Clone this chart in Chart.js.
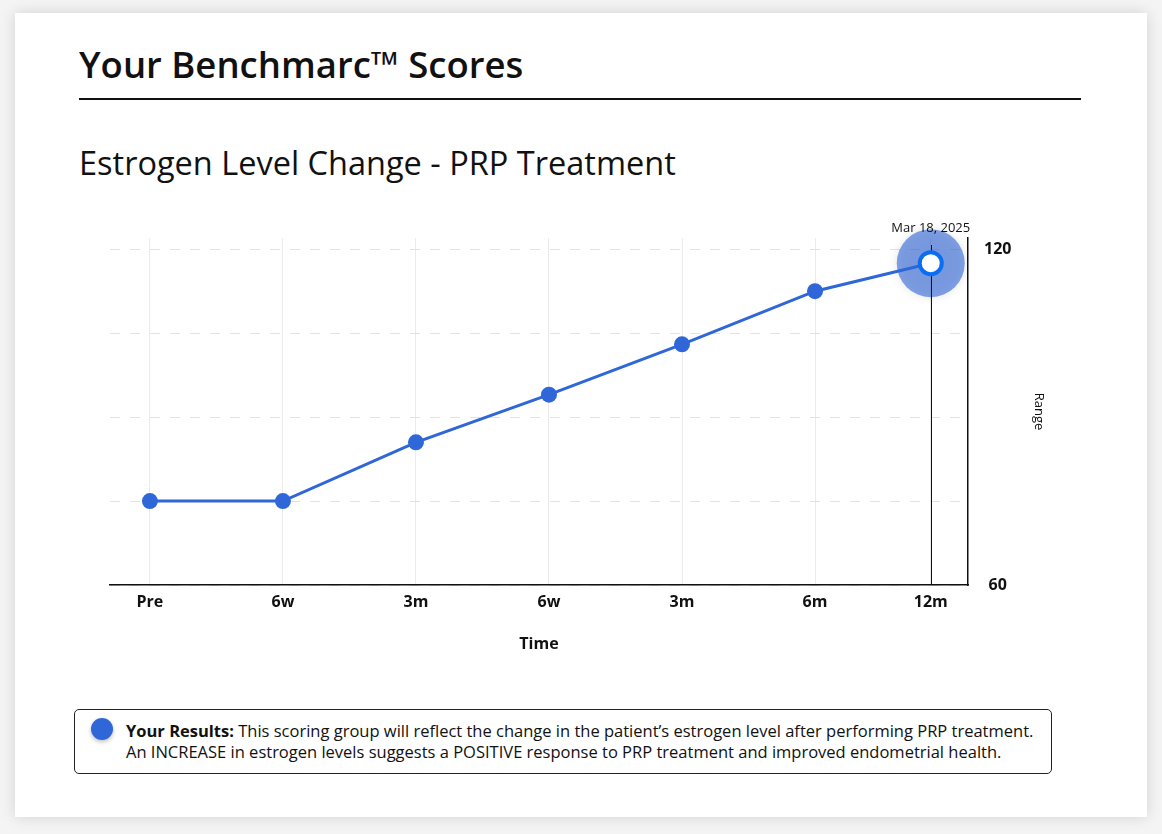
<!DOCTYPE html>
<html>
<head>
<meta charset="utf-8">
<script src="https://cdn.jsdelivr.net/npm/chart.js@4.4.1/dist/chart.umd.min.js"></script>
<style>
  html, body { margin: 0; padding: 0; }
  body {
    width: 1162px; height: 834px; background: #f4f4f4;
    font-family: "Open Sans", sans-serif; color: #111; position: relative; overflow: hidden;
  }
  .card {
    position: absolute; left: 15px; top: 13px; width: 1132px; height: 804px;
    background: #fff; box-shadow: 0 0 14px rgba(0,0,0,0.14);
  }
  .title {
    position: absolute; left: 79px; top: 40px; margin: 0;
    font-size: 36.5px; font-weight: 600; line-height: 48px; color: #111;
  }
  .rule { position: absolute; left: 79px; top: 98px; width: 1002px; height: 2px; background: #111; }
  .subtitle {
    position: absolute; left: 79px; top: 142px; margin: 0;
    font-size: 32.5px; font-weight: 400; line-height: 42px; color: #111;
  }
  .chart-box { position: absolute; left: 60px; top: 200px; width: 1000px; height: 470px; }
  .legend {
    position: absolute; left: 74px; top: 709px; width: 976px; height: 63px;
    border: 1px solid #222; border-radius: 5px; box-sizing: content-box;
  }
  .legend .dot {
    position: absolute; left: 16px; top: 8px; width: 22px; height: 22px; border-radius: 50%;
    background: #2f66d8; box-shadow: 0 2px 4px rgba(0,0,0,0.25);
  }
  .legend .text {
    position: absolute; left: 51px; top: 10px; width: 925px;
    font-size: 16.5px; line-height: 21px; color: #111; white-space: nowrap;
  }
  .legend b { font-weight: 700; }
</style>
</head>
<body>
<div class="card"></div>
<h1 class="title">Your Benchmarc™ Scores</h1>
<div class="rule"></div>
<h2 class="subtitle">Estrogen Level Change - PRP Treatment</h2>
<div class="chart-box"><canvas id="estrogenChart"></canvas></div>
<div class="legend">
  <div class="dot"></div>
  <div class="text"><b>Your Results:</b> This scoring group will reflect the change in the patient’s estrogen level after performing PRP treatment.<br>An INCREASE in estrogen levels suggests a POSITIVE response to PRP treatment and improved endometrial health.</div>
</div>

<script>
// --- Data ---
const timeLabels = ['Pre', '6w', '3m', '6w', '3m', '6m', '12m'];
const timeIndex = [0, 1, 2, 3, 4, 5, 5.87];
const estrogenValues = [75, 75, 85.5, 94, 103, 112.5, 117.5];
const yTickValues = [60, 75, 90, 105, 120];
const yTickLabels = ['60', '', '', '', '120'];
const lastDateLabel = 'Mar 18, 2025';

const BLUE = '#2f66d8';
const lastIdx = estrogenValues.length - 1;

// highlight halo + marker line behind the selected (latest) point
const highlightPlugin = {
    id: 'highlight',
    beforeDatasetsDraw(chart) {
        const pt = chart.getDatasetMeta(0).data[lastIdx];
        const { ctx, chartArea } = chart;
        ctx.save();
        ctx.shadowColor = 'rgba(0,0,0,0.18)';
        ctx.shadowBlur = 10;
        ctx.fillStyle = 'rgba(47,102,216,0.6)';
        ctx.beginPath();
        ctx.arc(pt.x, pt.y, 34, 0, Math.PI * 2);
        ctx.fill();
        ctx.restore();

        ctx.save();
        ctx.strokeStyle = '#111';
        ctx.lineWidth = 1;
        ctx.beginPath();
        ctx.moveTo(Math.round(pt.x) + 0.5, chartArea.top + 7);
        ctx.lineTo(Math.round(pt.x) + 0.5, chartArea.bottom);
        ctx.stroke();
        ctx.restore();
    },
    afterDatasetsDraw(chart) {
        const pt = chart.getDatasetMeta(0).data[lastIdx];
        const { ctx, chartArea } = chart;
        ctx.save();
        ctx.font = '13px "Open Sans"';
        ctx.fillStyle = '#111';
        ctx.textAlign = 'center';
        ctx.textBaseline = 'middle';
        ctx.fillText(lastDateLabel, pt.x, chartArea.top - 10);
        ctx.restore();
    }
};

const ctx = document.getElementById('estrogenChart').getContext('2d');
const estrogenChart = new Chart(ctx, {
    type: 'line',
    data: {
        datasets: [{
            label: 'Estrogen',
            data: timeIndex.map((t, i) => ({ x: t, y: estrogenValues[i] })),
            borderColor: BLUE,
            borderWidth: 3,
            tension: 0,
            pointRadius: (c) => c.dataIndex === lastIdx ? 11 : 8,
            pointBackgroundColor: (c) => c.dataIndex === lastIdx ? '#fff' : BLUE,
            pointBorderColor: (c) => c.dataIndex === lastIdx ? '#0a6ef5' : BLUE,
            pointBorderWidth: (c) => c.dataIndex === lastIdx ? 4 : 0,
        }]
    },
    options: {
        responsive: true,
        maintainAspectRatio: false,
        animation: false,
        layout: { padding: { left: 50, right: 12, top: 38, bottom: 16 } },
        plugins: { legend: { display: false }, tooltip: { enabled: false } },
        scales: {
            x: {
                type: 'linear',
                min: -0.3,
                max: 6.15,
                afterBuildTicks: (scale) => { scale.ticks = timeIndex.map(v => ({ value: v })); },
                afterFit: (scale) => { scale.height = 69; },
                grid: { color: '#ebebeb', lineWidth: 1, drawTicks: false },
                border: { display: true, color: '#111', width: 1.5 },
                ticks: {
                    padding: 8,
                    color: '#111',
                    font: { family: 'Open Sans', size: 16, weight: 'bold' },
                    maxRotation: 0,
                    callback: (value, index) => timeLabels[index]
                },
                title: {
                    display: true, text: 'Time', color: '#111',
                    font: { family: 'Open Sans', size: 16, weight: 'bold' },
                    padding: { top: 25, bottom: 0 }
                }
            },
            y: {
                position: 'right',
                min: 60,
                max: 122,
                afterBuildTicks: (scale) => { scale.ticks = yTickValues.map(v => ({ value: v })); },
                afterFit: (scale) => { scale.width = 80; },
                grid: { color: '#e3e3e3', lineWidth: 1, drawTicks: false },
                border: { display: true, color: '#111', width: 1.5, dash: [10, 10] },
                ticks: {
                    padding: 16,
                    crossAlign: 'center',
                    color: '#111',
                    font: { family: 'Open Sans', size: 16, weight: 'bold' },
                    callback: (value, index) => yTickLabels[index]
                },
                title: {
                    display: true, text: 'Range', color: '#111',
                    font: { family: 'Open Sans', size: 13 },
                    padding: { top: 1, bottom: 0 }
                }
            }
        }
    },
    plugins: [highlightPlugin]
});
</script>
</body>
</html>
